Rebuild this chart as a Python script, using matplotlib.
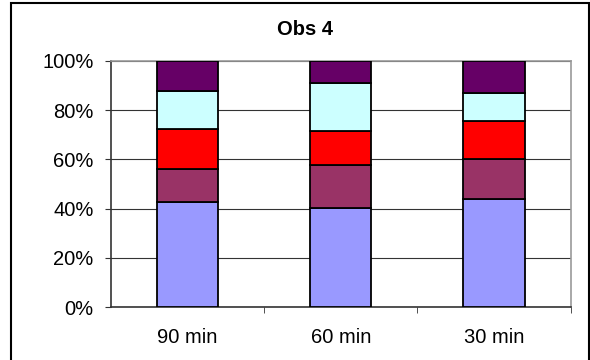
import numpy as np
import matplotlib.pyplot as plt
from matplotlib.patches import Rectangle

plt.rcParams['font.family'] = ['Liberation Sans', 'DejaVu Sans']

# Data (percent of each bar)
categories = ["90 min", "60 min", "30 min"]
seg1 = [42.7, 40.4, 43.8]
seg2 = [13.3, 17.3, 16.3]
seg3 = [16.2, 13.8, 15.5]
seg4 = [15.5, 19.4, 11.2]
seg5 = [12.3, 9.1, 13.2]
series = [seg1, seg2, seg3, seg4, seg5]
colors = ["#9999FF", "#993366", "#FF0000", "#CCFFFF", "#660066"]

fig = plt.figure(figsize=(5.9, 3.6), dpi=100)
ax = fig.add_axes([0.188, 0.147, 0.779, 0.684])

x = np.arange(len(categories))
bottom = np.zeros(len(categories))
for vals, c in zip(series, colors):
    ax.bar(x, vals, width=0.4, bottom=bottom, color=c, edgecolor="black",
           linewidth=1.3, zorder=3)
    bottom += np.array(vals)

ax.set_xlim(-0.5, len(categories) - 0.5)
ax.set_ylim(0, 100)
ax.set_yticks(np.arange(0, 101, 20))
ax.set_yticklabels([f"{v}%" for v in range(0, 101, 20)], fontsize=14.5)
ax.set_xticks(x)
ax.set_xticklabels(categories, fontsize=14.5)
ax.tick_params(axis="x", length=0, pad=15)
ax.set_xticks(np.arange(0.5, len(categories), 1), minor=True)
ax.tick_params(axis="x", which="minor", length=4.5, color="#333333", direction="out")
ax.tick_params(axis="y", length=4.5, color="#333333", direction="out", pad=8)

ax.grid(axis="y", color="#333333", linewidth=0.8, zorder=0)
for side in ["left", "bottom"]:
    ax.spines[side].set_color("#333333")
    ax.spines[side].set_linewidth(1.2)
for side in ["top", "right"]:
    ax.spines[side].set_color("#999999")
    ax.spines[side].set_linewidth(1.2)

fig.text(305 / 590, 0.917, "Obs 4", ha="center", va="center", fontsize=14.5,
         fontweight="bold")

# outer chart border
fig.patches.append(Rectangle((11 / 590, -0.05), 578 / 590, 1.05 - 3 / 360,
                             transform=fig.transFigure, fill=False,
                             edgecolor="black", linewidth=1.5))

fig.savefig("out.png", dpi=100)
